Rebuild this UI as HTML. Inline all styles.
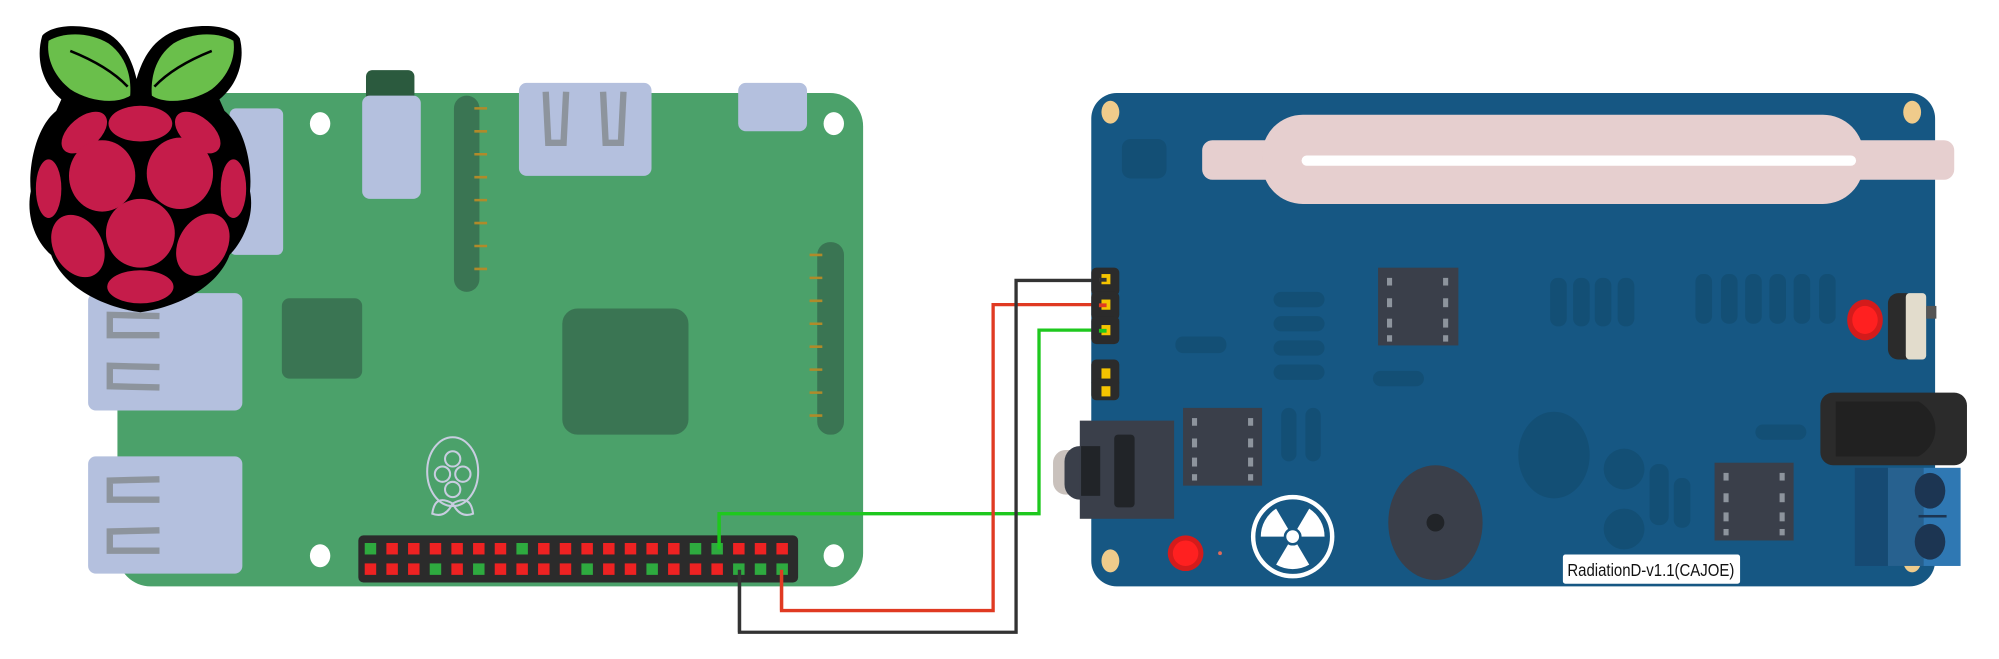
<!DOCTYPE html>
<html><head><meta charset="utf-8"><style>
html,body{margin:0;padding:0;background:#fff;overflow:hidden}
svg{display:block}
</style></head><body>
<svg width="1999" height="659" viewBox="0 0 1568 517" xmlns="http://www.w3.org/2000/svg">
<rect width="1568" height="517" fill="#fff"/>
<!-- RPi board -->
<rect x="180" y="85" width="43" height="115" rx="5" fill="#b4c0de"/>
<rect x="92" y="73" width="585" height="387" rx="26" fill="#4ba16a"/>
<rect x="180" y="85" width="42" height="115" rx="5" fill="#b4c0de"/>
<rect x="69" y="230" width="121" height="92" rx="6" fill="#b4c0de"/>
<rect x="69" y="358" width="121" height="92" rx="6" fill="#b4c0de"/>
<g fill="none" stroke="#8d949d" stroke-width="5">
<path d="M125 248 L86 247 L86 263 L125 263"/>
<path d="M125 288 L86 287 L86 303 L125 304"/>
<path d="M125 376 L86 377 L86 392 L125 392"/>
<path d="M125 416 L86 417 L86 432 L125 432"/>
</g>
<rect x="287" y="55" width="38" height="30" rx="5" fill="#2b5a3e"/>
<rect x="284" y="75" width="46" height="81" rx="6" fill="#b4c0de"/>
<rect x="356" y="75" width="20" height="154" rx="10" fill="#3a7553"/>
<rect x="641" y="190" width="21" height="151" rx="10" fill="#3a7553"/>
<g stroke="#b08a2a" stroke-width="2">
<path d="M372 85h10M372 103h10M372 121h10M372 139h10M372 157h10M372 175h10M372 193h10M372 211h10"/>
<path d="M635 200h10M635 218h10M635 236h10M635 254h10M635 272h10M635 290h10M635 308h10M635 326h10"/>
</g>
<rect x="407" y="65" width="104" height="73" rx="6" fill="#b4c0de"/>
<path d="M428 72 l2 40 h12 l2 -40" fill="none" stroke="#8d949d" stroke-width="5"/>
<path d="M473 72 l2 40 h12 l2 -40" fill="none" stroke="#8d949d" stroke-width="5"/>
<rect x="579" y="65" width="54" height="38" rx="6" fill="#b4c0de"/>
<rect x="221" y="234" width="63" height="63" rx="6" fill="#3a7553"/>
<rect x="441" y="242" width="99" height="99" rx="12" fill="#3a7553"/>
<g fill="#fff"><ellipse cx="251" cy="97" rx="8" ry="9"/><ellipse cx="654" cy="97" rx="8" ry="9"/><ellipse cx="251" cy="436" rx="8" ry="9"/><ellipse cx="654" cy="436" rx="8" ry="9"/></g>
<g fill="none" stroke="#c8cde0" stroke-width="1.6">
<ellipse cx="355" cy="370" rx="20" ry="27"/>
<circle cx="355" cy="360" r="6"/><circle cx="347" cy="372" r="6"/><circle cx="363" cy="372" r="6"/><circle cx="355" cy="384" r="6"/>
<path d="M355 395 q-14 -8 -16 8 q10 4 16 -8 q14 -8 16 8 q-10 4 -16 -8"/>
</g>
<rect x="281" y="420" width="345" height="37" rx="4" fill="#2b2b2b"/>
<g fill="none" stroke-width="2.6">
<path d="M564 431 V403 H815 V259 H867" stroke="#1ec81e"/>
<path d="M613 447 V479 H779 V239 H867" stroke="#e03a22"/>
<path d="M580 447 V496 H797 V220 H867" stroke="#333"/>
</g>
<!-- Geiger board -->
<rect x="856" y="73" width="662" height="387" rx="20" fill="#165783"/>
<g fill="#efcb8b"><ellipse cx="871" cy="88" rx="7" ry="9"/><ellipse cx="1500" cy="88" rx="7" ry="9"/><ellipse cx="871" cy="440" rx="7" ry="9"/><ellipse cx="1500" cy="440" rx="7" ry="9"/></g>
<rect x="880" y="109" width="35" height="31" rx="7" fill="#134f75"/>
<rect x="943" y="110" width="590" height="31" rx="8" fill="#e6cfcf"/>
<rect x="990" y="90" width="472" height="70" rx="32" fill="#e6cfcf"/>
<rect x="1021" y="122" width="435" height="8" rx="4" fill="#fff"/>
<g fill="#134f75">
<rect x="999" y="229" width="40" height="12" rx="6"/><rect x="999" y="248" width="40" height="12" rx="6"/><rect x="999" y="267" width="40" height="12" rx="6"/><rect x="999" y="286" width="40" height="12" rx="6"/>
<rect x="922" y="264" width="40" height="13" rx="6"/><rect x="1077" y="291" width="40" height="12" rx="6"/>
<rect x="1216" y="218" width="13" height="38" rx="6"/><rect x="1234" y="218" width="13" height="38" rx="6"/><rect x="1251" y="218" width="13" height="38" rx="6"/><rect x="1269" y="218" width="13" height="38" rx="6"/>
<rect x="1330" y="215" width="13" height="39" rx="6"/><rect x="1350" y="215" width="13" height="39" rx="6"/><rect x="1369" y="215" width="13" height="39" rx="6"/><rect x="1388" y="215" width="13" height="39" rx="6"/><rect x="1407" y="215" width="13" height="39" rx="6"/><rect x="1427" y="215" width="13" height="39" rx="6"/>
<rect x="1005" y="320" width="12" height="42" rx="6"/><rect x="1024" y="320" width="12" height="42" rx="6"/>
<ellipse cx="1219" cy="357" rx="28" ry="34"/><circle cx="1274" cy="368" r="16"/><circle cx="1274" cy="415" r="16"/>
<rect x="1294" y="364" width="15" height="48" rx="7"/><rect x="1313" y="375" width="13" height="39" rx="6"/>
<rect x="1377" y="333" width="40" height="12" rx="6"/>
</g>
<g fill="#2b2b2b"><rect x="856" y="210" width="22" height="22" rx="4"/><rect x="856" y="229" width="22" height="22" rx="4"/><rect x="856" y="248" width="22" height="22" rx="4"/><rect x="856" y="282" width="22" height="22" rx="4"/><rect x="856" y="297" width="22" height="17" rx="4"/></g>
<g fill="#f5c400"><rect x="864" y="215" width="7" height="8"/><rect x="864" y="235" width="7" height="8"/><rect x="864" y="255" width="7" height="8"/><rect x="864" y="289" width="7" height="8"/><rect x="864" y="303" width="7" height="8"/></g>
<rect x="862" y="218" width="6" height="3" fill="#333"/><rect x="862" y="238" width="6" height="3" fill="#e03a22"/><rect x="862" y="258" width="6" height="3" fill="#1ec81e"/>
<g fill="#3a3f4a"><rect x="1081" y="210" width="63" height="61"/><rect x="928" y="320" width="62" height="61"/><rect x="1345" y="363" width="62" height="61"/></g>
<g fill="#8d949d">
<rect x="1088" y="218" width="4" height="6"/><rect x="1088" y="234" width="4" height="7"/><rect x="1088" y="250" width="4" height="7"/><rect x="1088" y="263" width="4" height="5"/>
<rect x="1132" y="218" width="4" height="6"/><rect x="1132" y="234" width="4" height="7"/><rect x="1132" y="250" width="4" height="7"/><rect x="1132" y="263" width="4" height="5"/>
<rect x="935" y="328" width="4" height="6"/><rect x="935" y="344" width="4" height="7"/><rect x="935" y="359" width="4" height="7"/><rect x="935" y="372" width="4" height="5"/>
<rect x="979" y="328" width="4" height="6"/><rect x="979" y="344" width="4" height="7"/><rect x="979" y="359" width="4" height="7"/><rect x="979" y="372" width="4" height="5"/>
<rect x="1352" y="371" width="4" height="6"/><rect x="1352" y="387" width="4" height="7"/><rect x="1352" y="402" width="4" height="7"/><rect x="1352" y="415" width="4" height="5"/>
<rect x="1396" y="371" width="4" height="6"/><rect x="1396" y="387" width="4" height="7"/><rect x="1396" y="402" width="4" height="7"/><rect x="1396" y="415" width="4" height="5"/>
</g>
<rect x="826" y="353" width="24" height="35" rx="10" fill="#c9c1bc"/>
<rect x="835" y="350" width="30" height="42" rx="12" fill="#3a3f4a"/>
<rect x="847" y="330" width="74" height="77" fill="#3a3f4a"/>
<rect x="848" y="350" width="15" height="39" fill="#212428"/>
<rect x="874" y="341" width="16" height="57" rx="3" fill="#212428"/>
<circle cx="1014" cy="421" r="31" fill="#165783" stroke="#fff" stroke-width="3.5"/>
<g fill="#fff">
<path d="M1014 421 L1001 399 A26 26 0 0 0 989 421 Z"/>
<path d="M1014 421 L1027 399 A26 26 0 0 1 1039 421 Z"/>
<path d="M1014 421 L1001 443 A26 26 0 0 0 1027 443 Z"/>
<circle cx="1014" cy="421" r="6" stroke="#165783" stroke-width="2"/>
</g>
<circle cx="930" cy="434" r="14" fill="#d41b1b"/><circle cx="930" cy="434" r="10" fill="#ff2020"/>
<circle cx="957" cy="434" r="1.5" fill="#e06a5a"/>
<ellipse cx="1126" cy="410" rx="37" ry="45" fill="#3a3f4a"/><circle cx="1126" cy="410" r="7" fill="#212428"/>
<ellipse cx="1463" cy="251" rx="14" ry="16" fill="#d41b1b"/><ellipse cx="1463" cy="251" rx="10" ry="11" fill="#ff2020"/>
<rect x="1481" y="230" width="22" height="52" rx="8" fill="#2b2b2b"/>
<rect x="1495" y="230" width="16" height="52" rx="3" fill="#e2dccc"/>
<rect x="1511" y="240" width="8" height="10" fill="#555"/>
<rect x="1428" y="308" width="115" height="57" rx="10" fill="#2b2b2b"/>
<path d="M1440 315 H1505 A27 25 0 0 1 1505 358 H1440 Z" fill="#212121"/>
<rect x="1455" y="367" width="26" height="77" fill="#164a73"/>
<rect x="1481" y="367" width="28" height="77" fill="#27618f"/>
<rect x="1509" y="367" width="29" height="77" fill="#2f78b3"/>
<ellipse cx="1514" cy="385" rx="12" ry="14" fill="#1c3552"/>
<ellipse cx="1514" cy="425" rx="12" ry="14" fill="#1c3552"/>
<rect x="1505" y="404" width="22" height="2" fill="#1c3552"/>
<rect x="1226" y="435" width="139" height="23" rx="2" fill="#fff"/>
<text x="1295" y="452" text-anchor="middle" font-family="Liberation Sans, sans-serif" font-size="14" fill="#111" textLength="131" lengthAdjust="spacingAndGlyphs">RadiationD-v1.1(CAJOE)</text>
<!-- big raspberry logo -->
<g>
<path d="M33 28 C40 20 60 18 80 24 C95 30 103 45 107 62 C112 45 120 30 140 23 C160 18 182 20 188 30 C192 45 188 65 172 78 L176 87 C192 100 198 130 196 150 C200 170 190 190 180 200 C172 222 145 240 110 245 C75 240 48 222 40 200 C28 190 20 170 24 150 C22 130 28 100 44 87 L48 78 C32 65 28 45 33 28 Z" fill="#000"/>
<path d="M38 32 C50 25 70 25 85 34 C100 45 103 62 102 75 C92 82 70 80 55 70 C42 60 36 45 38 32 Z" fill="#6abf4b"/>
<path d="M183 32 C171 25 151 25 136 34 C121 45 118 62 119 75 C129 82 151 80 166 70 C179 60 185 45 183 32 Z" fill="#6abf4b"/>
<path d="M55 40 Q85 52 100 68" stroke="#000" stroke-width="2" fill="none"/>
<path d="M166 40 Q136 52 121 68" stroke="#000" stroke-width="2" fill="none"/>
<g fill="#c51c4a">
<ellipse cx="110" cy="97" rx="25" ry="14"/>
<ellipse cx="66" cy="104" rx="21" ry="12" transform="rotate(-40 66 104)"/>
<ellipse cx="155" cy="104" rx="21" ry="12" transform="rotate(40 155 104)"/>
<ellipse cx="80" cy="138" rx="26" ry="28"/>
<ellipse cx="141" cy="136" rx="26" ry="28"/>
<ellipse cx="38" cy="148" rx="10" ry="23"/>
<ellipse cx="183" cy="148" rx="10" ry="23"/>
<ellipse cx="110" cy="183" rx="27" ry="27"/>
<ellipse cx="61" cy="193" rx="19" ry="26" transform="rotate(-30 61 193)"/>
<ellipse cx="159" cy="192" rx="19" ry="26" transform="rotate(30 159 192)"/>
<ellipse cx="110" cy="225" rx="26" ry="13"/>
</g>
</g>
<!-- GPIO pins -->
<g>
<rect x="286" y="426" width="9" height="9" fill="#2eaa3f"/><rect x="303" y="426" width="9" height="9" fill="#ee2222"/><rect x="320" y="426" width="9" height="9" fill="#ee2222"/><rect x="337" y="426" width="9" height="9" fill="#ee2222"/><rect x="354" y="426" width="9" height="9" fill="#ee2222"/><rect x="371" y="426" width="9" height="9" fill="#ee2222"/><rect x="388" y="426" width="9" height="9" fill="#ee2222"/><rect x="405" y="426" width="9" height="9" fill="#2eaa3f"/><rect x="422" y="426" width="9" height="9" fill="#ee2222"/><rect x="439" y="426" width="9" height="9" fill="#ee2222"/><rect x="456" y="426" width="9" height="9" fill="#ee2222"/><rect x="473" y="426" width="9" height="9" fill="#ee2222"/><rect x="490" y="426" width="9" height="9" fill="#ee2222"/><rect x="507" y="426" width="9" height="9" fill="#ee2222"/><rect x="524" y="426" width="9" height="9" fill="#ee2222"/><rect x="541" y="426" width="9" height="9" fill="#2eaa3f"/><rect x="558" y="426" width="9" height="9" fill="#2eaa3f"/><rect x="575" y="426" width="9" height="9" fill="#ee2222"/><rect x="592" y="426" width="9" height="9" fill="#ee2222"/><rect x="609" y="426" width="9" height="9" fill="#ee2222"/>
<rect x="286" y="442" width="9" height="9" fill="#ee2222"/><rect x="303" y="442" width="9" height="9" fill="#ee2222"/><rect x="320" y="442" width="9" height="9" fill="#ee2222"/><rect x="337" y="442" width="9" height="9" fill="#2eaa3f"/><rect x="354" y="442" width="9" height="9" fill="#ee2222"/><rect x="371" y="442" width="9" height="9" fill="#2eaa3f"/><rect x="388" y="442" width="9" height="9" fill="#ee2222"/><rect x="405" y="442" width="9" height="9" fill="#ee2222"/><rect x="422" y="442" width="9" height="9" fill="#ee2222"/><rect x="439" y="442" width="9" height="9" fill="#ee2222"/><rect x="456" y="442" width="9" height="9" fill="#2eaa3f"/><rect x="473" y="442" width="9" height="9" fill="#ee2222"/><rect x="490" y="442" width="9" height="9" fill="#ee2222"/><rect x="507" y="442" width="9" height="9" fill="#2eaa3f"/><rect x="524" y="442" width="9" height="9" fill="#ee2222"/><rect x="541" y="442" width="9" height="9" fill="#ee2222"/><rect x="558" y="442" width="9" height="9" fill="#ee2222"/><rect x="575" y="442" width="9" height="9" fill="#2eaa3f"/><rect x="592" y="442" width="9" height="9" fill="#2eaa3f"/><rect x="609" y="442" width="9" height="9" fill="#2eaa3f"/>
</g>
<g fill="none" stroke-width="2.6">
<path d="M564 431 V403" stroke="#1ec81e"/>
<path d="M613 447 V479" stroke="#e03a22"/>
<path d="M580 447 V496" stroke="#333"/>
</g>
</svg>
</body></html>
